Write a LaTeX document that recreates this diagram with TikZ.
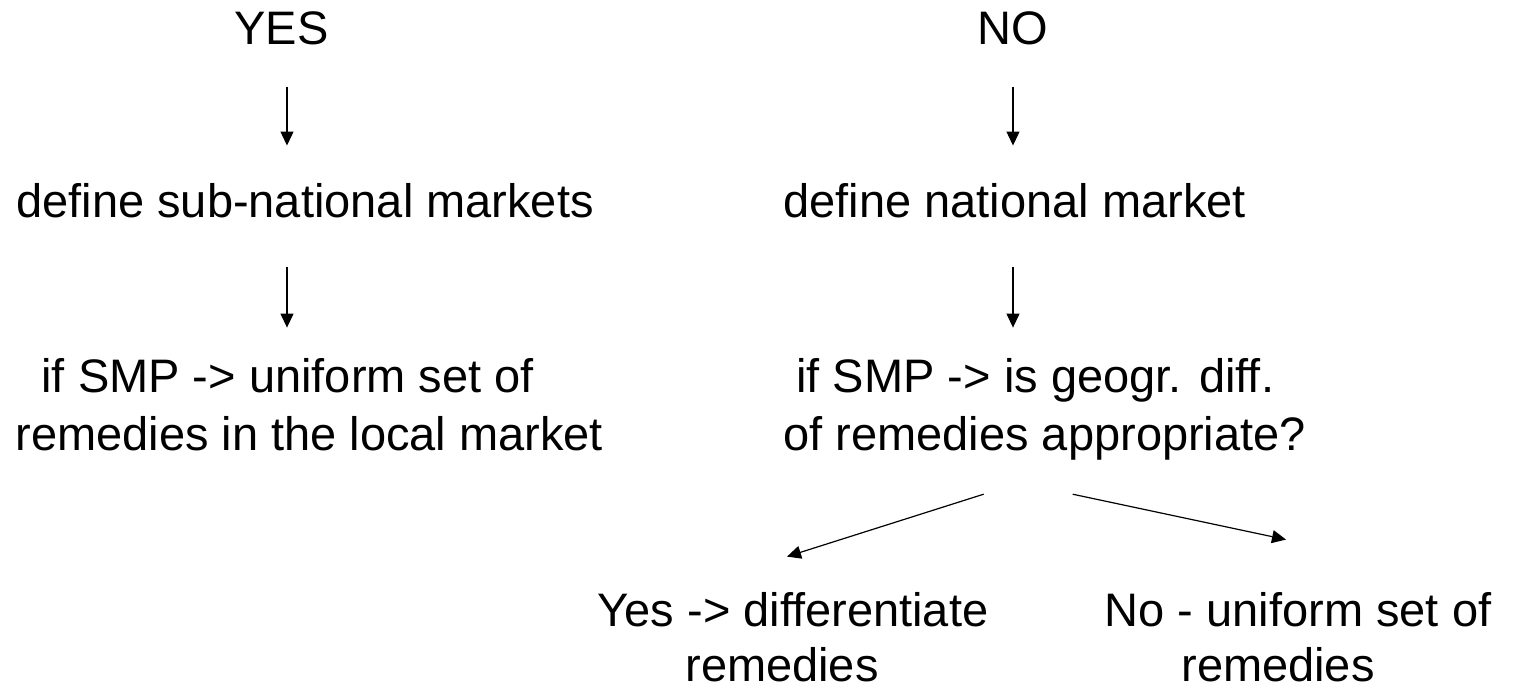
\documentclass[tikz,border=0pt]{standalone}
\usepackage{fontspec}
\setmainfont{Liberation Sans}
\usetikzlibrary{arrows.meta,calc}

\begin{document}
\begin{tikzpicture}[x=0.5pt,y=-0.5pt]
\tikzset{every node/.style={inner sep=0pt,font=\fontsize{23.5pt}{29pt}\selectfont}}
\tikzset{lefttext/.style={anchor=north west,align=left}}
\tikzset{answer/.style={anchor=north,align=center,font=\fontsize{23.5pt}{27.5pt}\selectfont}}
\tikzset{arr/.style={line width=0.6pt,-{Triangle[length=7pt,width=6.5pt]}}}
\useasboundingbox (0,0) rectangle (1516,688);
% columns of the two branches
\coordinate (colL) at (287,0);
\coordinate (colR) at (1013,0);
% left branch
\node[anchor=base west] (yes) at (234,45) {YES};
\node[anchor=base west] (defsub) at (16,218) {define sub-national markets};
\node[lefttext] (smpL) at (15,357.6) {~~if SMP -> uniform set of\\remedies in the local market};
% right branch
\node[anchor=base west] (no) at (977,45) {NO};
\node[anchor=base west] (defnat) at (783,218) {define national market};
\node[lefttext] (smpR) at (783,357.6) {~if SMP -> is geogr. diff.\\of remedies appropriate?};
\node[answer] (yesdiff) at (793,591.6) {Yes -> differentiate\\remedies\hspace*{11pt}};
\node[answer] (nodiff) at (1298,591.6) {No - uniform set of\\remedies\hspace*{20pt}};
% arrows
\draw[arr] ($(yes.south -| colL)+(0,41)$) -- ($(defsub.north -| colL)+(0,-38)$);
\draw[arr] ($(defsub.south -| colL)+(0,48)$) -- ($(smpL.north -| colL)+(0,-30)$);
\draw[arr] ($(no.south -| colR)+(0,41)$) -- ($(defnat.north -| colR)+(0,-38)$);
\draw[arr] ($(defnat.south -| colR)+(0,48)$) -- ($(smpR.north -| colR)+(0,-30)$);
\draw[arr] ($(smpR.south)+(-61,34)$) -- ($(yesdiff.north)+(-6,-35)$);
\draw[arr] ($(smpR.south)+(28,34)$) -- ($(nodiff.north)+(-12,-52)$);
\end{tikzpicture}
\end{document}
